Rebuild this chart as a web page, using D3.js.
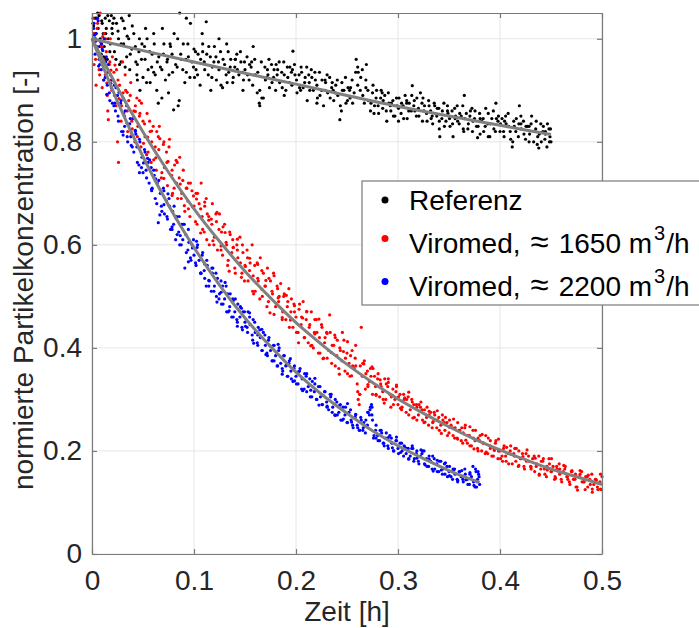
<!DOCTYPE html>
<html>
<head>
<meta charset="utf-8">
<script src="https://cdn.jsdelivr.net/npm/d3@7"></script>
<style>
  body { margin: 0; background: #fff; }
  svg { display: block; font-family: "Liberation Sans", Arial, Helvetica, sans-serif; }
</style>
</head>
<body>
<div class="chart"></div>
<script>
// measured points, [Zeit in h, normierte Konzentration]
var referenz = [
  [0.001,1.03],[0.002,0.99],[0.003,1.04],[0.004,1.01],[0.005,0.98],[0.006,1.02],[0.007,1.045],[0.008,1.0],[0.009,0.97],[0.010,1.03],
  [0.011,1.01],[0.012,0.985],[0.013,1.04],[0.014,1.02],[0.015,0.96],[0.016,1.0],[0.017,1.035],[0.018,0.99],[0.019,1.045],[0.020,1.01],
  [0.022,0.975],[0.024,1.03],[0.026,1.0],[0.027,0.95],[0.029,1.04],[0.031,0.99],[0.032,1.02],[0.034,0.965],[0.036,1.0],[0.037,0.94],
  [0.039,0.98],[0.041,1.01],[0.043,0.955],[0.044,0.93],[0.046,0.975],[0.047,0.90],[0.049,0.99],[0.050,0.925],
  [0.052,0.96],[0.054,1.0],[0.055,0.94],[0.057,0.915],[0.059,0.97],[0.061,0.99],[0.062,0.93],[0.064,0.955],[0.065,0.875],[0.067,0.945],
  [0.069,1.02],[0.070,0.97],[0.072,0.92],[0.074,0.96],[0.075,0.895],[0.077,0.985],[0.079,0.935],[0.080,0.862],[0.082,0.95],[0.084,1.0],
  [0.086,1.05],[0.087,0.97],[0.089,0.94],[0.091,0.915],[0.092,0.96],[0.094,0.99],[0.096,0.925],[0.098,0.955],[0.100,0.98],
  [0.102,0.94],[0.104,0.97],[0.106,0.91],[0.108,1.01],[0.110,0.955],[0.112,1.033],[0.114,0.93],[0.116,0.965],[0.118,0.945],[0.120,0.985],
  [0.122,0.92],[0.124,0.955],[0.126,0.975],[0.128,0.905],[0.130,0.95],[0.132,0.99],[0.134,0.935],[0.136,0.96],[0.138,0.915],[0.140,0.945],
  [0.142,0.97],[0.144,0.93],[0.146,0.955],[0.148,0.9],[0.150,0.94],
  [0.152,0.965],[0.154,0.92],[0.156,0.945],[0.158,0.985],[0.160,0.93],[0.162,0.895],[0.164,0.875],[0.166,0.955],[0.168,0.885],[0.170,0.92],
  [0.172,0.94],[0.174,0.905],[0.176,0.95],[0.178,0.925],[0.180,0.9],[0.182,0.94],[0.184,0.915],[0.186,0.935],[0.188,0.955],[0.190,0.9],
  [0.192,0.925],[0.194,0.945],[0.196,0.91],[0.197,0.976],[0.199,0.93],
  [0.201,0.895],[0.203,0.93],[0.205,0.945],[0.207,0.905],[0.209,0.925],[0.211,0.88],[0.213,0.915],[0.215,0.94],[0.217,0.9],[0.219,0.92],
  [0.221,0.885],[0.223,0.935],[0.225,0.9],[0.227,0.87],[0.229,0.915],[0.231,0.895],[0.233,0.925],[0.235,0.905],[0.237,0.88],[0.239,0.91],
  [0.241,0.89],[0.243,0.843],[0.245,0.915],[0.247,0.9],[0.249,0.875],
  [0.251,0.905],[0.253,0.885],[0.255,0.92],[0.257,0.895],[0.259,0.96],[0.261,0.935],[0.263,0.9],[0.265,0.94],[0.267,0.875],[0.269,0.95],
  [0.271,0.88],[0.273,0.86],[0.275,0.895],[0.277,0.87],[0.279,0.9],[0.281,0.855],[0.283,0.885],[0.285,0.865],[0.287,0.89],[0.289,0.84],
  [0.291,0.875],[0.293,0.86],[0.295,0.88],[0.297,0.85],[0.299,0.87],
  [0.301,0.885],[0.303,0.855],[0.305,0.87],[0.307,0.89],[0.309,0.845],[0.311,0.875],[0.313,0.86],[0.314,0.909],[0.316,0.88],[0.318,0.85],
  [0.320,0.865],[0.322,0.895],[0.324,0.84],[0.326,0.87],[0.328,0.855],[0.330,0.88],[0.332,0.86],[0.334,0.835],[0.336,0.87],[0.338,0.85],
  [0.340,0.865],[0.341,0.81],[0.343,0.845],[0.345,0.875],[0.347,0.84],
  [0.349,0.855],[0.351,0.83],[0.353,0.86],[0.354,0.81],[0.356,0.845],[0.358,0.87],[0.360,0.835],[0.362,0.85],[0.364,0.825],[0.365,0.89],
  [0.367,0.855],[0.369,0.835],[0.371,0.86],[0.373,0.82],[0.375,0.845],[0.377,0.83],[0.378,0.808],[0.380,0.855],[0.382,0.84],[0.384,0.82],
  [0.386,0.865],[0.388,0.835],[0.390,0.81],[0.392,0.845],[0.394,0.825],[0.396,0.875],[0.398,0.84],
  [0.400,0.82],[0.402,0.845],[0.404,0.81],[0.406,0.835],[0.408,0.855],[0.410,0.82],[0.412,0.79],[0.414,0.83],[0.416,0.845],[0.418,0.81],
  [0.419,0.87],[0.421,0.825],[0.423,0.84],[0.425,0.805],[0.427,0.83],[0.429,0.815],[0.431,0.85],[0.433,0.8],[0.435,0.825],[0.437,0.81],
  [0.438,0.788],[0.440,0.835],[0.442,0.82],[0.444,0.805],[0.446,0.79],[0.448,0.825],[0.449,0.81],[0.450,0.8],
  [0.0015,1.025],[0.0035,1.0],[0.0055,1.05],[0.0075,0.985],[0.0095,1.035],[0.0115,0.965],[0.0135,1.01],[0.0155,1.045],[0.0175,0.975],[0.0195,1.02],
  [0.0215,1.04],[0.0235,0.96],[0.0255,1.015],[0.0285,0.99],[0.0305,1.035],[0.0325,0.945],[0.0345,1.005],[0.0375,0.97],[0.0395,1.025],[0.0425,0.985],
  [0.0445,0.95],[0.0465,1.0],[0.0485,0.96],[0.0515,0.985],[0.0535,0.915],[0.0565,0.975],[0.0585,0.945],[0.0605,1.01],[0.0635,0.9],[0.0655,0.965],
  [0.0685,0.94],[0.0705,0.99],[0.0735,0.955],[0.0755,0.93],[0.0785,0.97],[0.0805,1.01],[0.0835,0.945],[0.0855,0.88],[0.0875,0.96],[0.0895,0.99],
  [0.0925,0.935],[0.0945,0.965],[0.0965,1.03],[0.0995,0.945],[0.1015,0.975],[0.1035,0.93],[0.1065,0.96],[0.1085,0.99],[0.1105,0.94],[0.1125,0.97],
  [0.1145,0.985],[0.1175,0.925],[0.1195,0.955],[0.1215,0.965],[0.1245,0.94],[0.1265,0.91],[0.1285,0.96],[0.1315,0.93],[0.1335,0.975],[0.1355,0.945],
  [0.1385,0.925],[0.1405,0.96],[0.1425,0.94],[0.1455,0.975],[0.1475,0.935],[0.1495,0.955],[0.1525,0.93],[0.1545,0.95],[0.1575,0.91],[0.1595,0.96],
  [0.1625,0.935],[0.1645,0.9],[0.1665,0.885],[0.1695,0.945],[0.1715,0.925],[0.1735,0.96],[0.1765,0.915],[0.1785,0.94],[0.1815,0.93],[0.1835,0.955],
  [0.1865,0.905],[0.1885,0.93],[0.1915,0.945],[0.1935,0.915],[0.1955,0.935],[0.1985,0.95],[0.2005,0.92],[0.2035,0.905],[0.2055,0.935],[0.2085,0.915],
  [0.2105,0.945],[0.2135,0.9],[0.2155,0.925],[0.2185,0.935],[0.2205,0.91],[0.2235,0.89],[0.2255,0.92],[0.2285,0.9],[0.2305,0.93],[0.2335,0.885],
  [0.2355,0.915],[0.2385,0.895],[0.2405,0.92],[0.2435,0.87],[0.2455,0.9],[0.2485,0.925],[0.2505,0.88],[0.2535,0.905],[0.2555,0.875],[0.2585,0.935],
  [0.2605,0.91],[0.2635,0.925],[0.2655,0.89],[0.2685,0.92],[0.2705,0.9],[0.2735,0.875],[0.2755,0.91],[0.2785,0.885],[0.2805,0.87],[0.2835,0.9],
  [0.2855,0.88],[0.2885,0.86],[0.2905,0.895],[0.2935,0.875],[0.2955,0.85],[0.2985,0.885],[0.3005,0.865],[0.3035,0.875],[0.3055,0.845],[0.3085,0.88],
  [0.3105,0.86],[0.3135,0.89],[0.3155,0.87],[0.3185,0.885],[0.3205,0.85],[0.3235,0.875],[0.3255,0.86],[0.3285,0.84],[0.3305,0.87],[0.3335,0.85],
  [0.3355,0.875],[0.3385,0.865],[0.3405,0.84],[0.3435,0.86],[0.3455,0.83],[0.3485,0.87],[0.3505,0.845],[0.3535,0.835],[0.3555,0.865],[0.3585,0.84],
  [0.3605,0.855],[0.3635,0.87],[0.3655,0.845],[0.3685,0.825],[0.3705,0.85],[0.3735,0.84],[0.3755,0.86],[0.3785,0.83],[0.3805,0.815],[0.3835,0.845],
  [0.3855,0.83],[0.3885,0.855],[0.3905,0.835],[0.3935,0.86],[0.3955,0.82],[0.3985,0.85],[0.4005,0.835],[0.4035,0.82],[0.4055,0.85],[0.4085,0.83],
  [0.4105,0.805],[0.4135,0.84],[0.4155,0.82],[0.4185,0.835],[0.4205,0.85],[0.4235,0.815],[0.4255,0.83],[0.4285,0.8],[0.4305,0.835],[0.4335,0.82],
  [0.4355,0.84],[0.4385,0.815],[0.4405,0.8],[0.4425,0.83],[0.4445,0.815],[0.4465,0.835],[0.4485,0.8],[0.4495,0.825],
  [0.0045,1.04],[0.0125,0.96],[0.0205,1.03],[0.0285,0.955],[0.0365,1.045],[0.0445,0.92],[0.0525,1.02],[0.0605,0.935],[0.0685,0.885],[0.0765,0.99],
  [0.0845,0.87],[0.0925,1.04],[0.1005,0.925],[0.1085,0.975],[0.1165,0.9],[0.1245,1.0],[0.1325,0.915],[0.1405,0.96],[0.1485,0.92],[0.1565,0.955],
  [0.1645,0.87],[0.1725,0.93],[0.1805,0.95],[0.1885,0.89],[0.1965,0.94],[0.2045,0.9],[0.2125,0.93],[0.2205,0.875],[0.2285,0.92],[0.2365,0.9],
  [0.2445,0.86],[0.2525,0.9],[0.2605,0.945],[0.2685,0.905],[0.2765,0.855],[0.2845,0.895],[0.2925,0.87],[0.3005,0.84],[0.3085,0.875],[0.3165,0.86],
  [0.3245,0.885],[0.3325,0.845],[0.3405,0.825],[0.3485,0.86],[0.3565,0.85],[0.3645,0.82],[0.3725,0.865],[0.3805,0.845],[0.3885,0.81],[0.3965,0.845],
  [0.4045,0.84],[0.4125,0.8],[0.4205,0.835],[0.4285,0.83],[0.4365,0.795],[0.4445,0.82]
];

var viromed1650 = [
  [0.001,1.04],[0.002,0.95],[0.003,1.0],[0.004,0.91],[0.005,1.02],[0.006,0.97],[0.007,0.94],[0.008,1.05],[0.009,0.99],[0.010,0.905],
  [0.011,0.96],[0.012,1.01],[0.013,0.93],[0.014,0.975],[0.015,0.89],[0.016,0.843],[0.017,0.95],[0.018,1.0],[0.019,0.92],[0.020,0.965],
  [0.022,0.89],[0.024,0.94],[0.025,0.8],[0.026,0.76],[0.027,0.91],[0.029,0.87],[0.030,0.955],[0.032,0.85],[0.033,0.9],[0.035,0.82],
  [0.036,0.88],[0.038,0.915],[0.039,0.84],[0.041,0.86],[0.042,0.8],[0.044,0.885],[0.045,0.83],[0.047,0.855],[0.048,0.79],[0.050,0.84],
  [0.052,0.81],[0.054,0.855],[0.055,0.78],[0.057,0.82],[0.058,0.76],[0.060,0.83],[0.062,0.79],[0.063,0.745],[0.065,0.81],[0.066,0.83],
  [0.068,0.73],[0.070,0.795],[0.071,0.75],[0.073,0.78],[0.074,0.715],[0.076,0.805],[0.078,0.735],[0.079,0.7],[0.081,0.755],[0.083,0.72],
  [0.084,0.69],[0.086,0.77],[0.088,0.7],[0.089,0.725],[0.091,0.665],[0.093,0.71],[0.094,0.685],[0.096,0.655],[0.098,0.705],[0.100,0.675],
  [0.102,0.7],[0.103,0.64],[0.105,0.68],[0.107,0.72],[0.108,0.655],[0.110,0.625],[0.112,0.69],[0.113,0.66],[0.115,0.6],[0.117,0.65],
  [0.118,0.68],[0.120,0.615],[0.122,0.645],[0.123,0.59],[0.125,0.66],[0.127,0.625],[0.128,0.58],[0.130,0.64],[0.132,0.6],[0.133,0.56],
  [0.135,0.625],[0.137,0.585],[0.138,0.61],[0.140,0.555],[0.142,0.6],[0.143,0.575],[0.145,0.615],[0.147,0.545],[0.148,0.585],[0.150,0.56],
  [0.152,0.59],[0.153,0.53],[0.155,0.565],[0.157,0.6],[0.158,0.54],[0.160,0.51],[0.162,0.565],[0.163,0.53],[0.165,0.575],[0.167,0.5],
  [0.168,0.545],[0.170,0.52],[0.172,0.555],[0.173,0.49],[0.175,0.53],[0.177,0.505],[0.178,0.545],[0.180,0.48],[0.182,0.515],[0.183,0.49],
  [0.185,0.525],[0.187,0.47],[0.188,0.5],[0.190,0.455],[0.192,0.49],[0.193,0.515],[0.195,0.47],[0.197,0.44],[0.198,0.485],[0.200,0.46],
  [0.202,0.43],[0.203,0.475],[0.205,0.445],[0.207,0.49],[0.208,0.42],[0.210,0.455],[0.212,0.41],[0.213,0.44],[0.215,0.47],[0.217,0.4],
  [0.218,0.43],[0.220,0.455],[0.222,0.39],[0.223,0.42],[0.225,0.445],[0.227,0.38],[0.228,0.41],[0.230,0.43],[0.232,0.395],[0.233,0.464],
  [0.235,0.37],[0.237,0.405],[0.238,0.425],[0.240,0.385],[0.242,0.36],[0.243,0.4],[0.245,0.375],[0.247,0.415],[0.248,0.355],[0.250,0.39],
  [0.252,0.37],[0.253,0.345],[0.255,0.395],[0.257,0.36],[0.258,0.38],[0.260,0.33],[0.261,0.3],[0.262,0.29],[0.263,0.365],[0.264,0.44],
  [0.265,0.345],[0.267,0.375],[0.268,0.32],[0.270,0.355],[0.272,0.335],[0.273,0.36],[0.275,0.31],[0.277,0.345],[0.278,0.325],[0.280,0.34],
  [0.282,0.305],[0.283,0.33],[0.285,0.315],[0.287,0.34],[0.288,0.3],[0.290,0.325],[0.292,0.31],[0.293,0.285],[0.295,0.32],[0.297,0.3],
  [0.298,0.315],[0.300,0.29],
  [0.302,0.31],[0.304,0.285],[0.306,0.3],[0.308,0.275],[0.310,0.305],[0.312,0.28],[0.314,0.295],[0.316,0.265],[0.318,0.29],[0.320,0.27],
  [0.322,0.285],[0.324,0.26],[0.326,0.28],[0.328,0.265],[0.330,0.25],[0.332,0.275],[0.334,0.255],[0.336,0.27],[0.338,0.245],[0.340,0.265],
  [0.342,0.25],[0.344,0.26],[0.346,0.24],[0.348,0.255],[0.350,0.235],
  [0.352,0.25],[0.354,0.23],[0.356,0.245],[0.358,0.225],[0.360,0.24],[0.362,0.22],[0.364,0.235],[0.366,0.25],[0.368,0.215],[0.370,0.23],
  [0.372,0.21],[0.374,0.225],[0.376,0.24],[0.378,0.205],[0.380,0.22],[0.382,0.2],[0.384,0.215],[0.386,0.23],[0.388,0.195],[0.390,0.21],
  [0.392,0.19],[0.394,0.205],[0.396,0.22],[0.398,0.185],[0.400,0.2],
  [0.402,0.19],[0.404,0.21],[0.406,0.18],[0.408,0.195],[0.410,0.2],[0.412,0.175],[0.414,0.19],[0.416,0.205],[0.418,0.17],[0.420,0.185],
  [0.422,0.195],[0.424,0.165],[0.426,0.18],[0.428,0.19],[0.430,0.17],[0.432,0.185],[0.434,0.16],[0.436,0.175],[0.438,0.19],[0.440,0.165],
  [0.442,0.18],[0.444,0.155],[0.446,0.17],[0.448,0.185],[0.450,0.16],[0.452,0.17],[0.454,0.15],[0.456,0.165],[0.458,0.175],[0.460,0.145],
  [0.462,0.16],[0.464,0.17],[0.466,0.15],[0.468,0.14],[0.470,0.16],[0.472,0.145],[0.474,0.155],[0.476,0.124],[0.478,0.15],[0.480,0.16],
  [0.482,0.14],[0.484,0.15],[0.486,0.13],[0.488,0.145],[0.490,0.155],[0.492,0.135],[0.494,0.145],[0.496,0.125],[0.498,0.14],[0.500,0.15],
  [0.0015,1.01],[0.0035,0.96],[0.0055,1.03],[0.0075,0.93],[0.0095,0.985],[0.0115,0.92],[0.0135,1.0],[0.0155,0.86],[0.0175,0.955],[0.0195,0.9],
  [0.0215,0.935],[0.0235,0.87],[0.0255,0.92],[0.0285,0.84],[0.0305,0.895],[0.0325,0.93],[0.0345,0.86],[0.0375,0.89],[0.0395,0.825],[0.0425,0.87],
  [0.0445,0.81],[0.0465,0.85],[0.0485,0.875],[0.0515,0.835],[0.0535,0.775],[0.0565,0.84],[0.0585,0.8],[0.0605,0.765],[0.0635,0.82],[0.0655,0.785],
  [0.0685,0.74],[0.0705,0.8],[0.0735,0.76],[0.0755,0.79],[0.0785,0.745],[0.0805,0.71],[0.0835,0.76],[0.0855,0.73],[0.0875,0.69],[0.0895,0.745],
  [0.0925,0.71],[0.0945,0.67],[0.0965,0.72],[0.0995,0.695],[0.1015,0.645],[0.1035,0.7],[0.1065,0.67],[0.1085,0.63],[0.1105,0.675],[0.1125,0.61],
  [0.1145,0.655],[0.1175,0.64],[0.1195,0.6],[0.1215,0.66],[0.1245,0.63],[0.1265,0.59],[0.1285,0.635],[0.1315,0.605],[0.1335,0.57],[0.1355,0.62],
  [0.1385,0.595],[0.1405,0.545],[0.1425,0.59],[0.1455,0.565],[0.1475,0.6],[0.1495,0.53],[0.1525,0.575],[0.1545,0.55],[0.1575,0.51],[0.1595,0.56],
  [0.1625,0.535],[0.1645,0.495],[0.1665,0.55],[0.1695,0.52],[0.1715,0.48],[0.1735,0.535],[0.1765,0.51],[0.1785,0.465],[0.1815,0.52],[0.1835,0.5],
  [0.1865,0.455],[0.1885,0.505],[0.1915,0.48],[0.1935,0.44],[0.1955,0.495],[0.1985,0.47],[0.2005,0.43],[0.2035,0.485],[0.2055,0.46],[0.2085,0.42],
  [0.2105,0.47],[0.2135,0.445],[0.2155,0.405],[0.2185,0.455],[0.2205,0.43],[0.2235,0.39],[0.2255,0.44],[0.2285,0.42],[0.2305,0.38],[0.2335,0.43],
  [0.2355,0.405],[0.2385,0.365],[0.2405,0.415],[0.2435,0.395],[0.2455,0.43],[0.2485,0.38],[0.2505,0.35],[0.2535,0.385],[0.2555,0.365],[0.2585,0.405],
  [0.2605,0.315],[0.2625,0.31],[0.2655,0.37],[0.2685,0.35],[0.2705,0.325],[0.2735,0.345],[0.2755,0.36],[0.2785,0.31],[0.2805,0.35],[0.2835,0.325],
  [0.2855,0.3],[0.2885,0.33],[0.2905,0.34],[0.2935,0.305],[0.2955,0.29],[0.2985,0.325],[0.3005,0.305],[0.3035,0.28],[0.3055,0.31],[0.3085,0.3],
  [0.3105,0.27],[0.3135,0.3],[0.3155,0.29],[0.3185,0.26],[0.3205,0.29],[0.3235,0.28],[0.3255,0.255],[0.3285,0.285],[0.3305,0.27],[0.3335,0.245],
  [0.3355,0.275],[0.3385,0.26],[0.3405,0.24],[0.3435,0.27],[0.3455,0.255],[0.3485,0.23],[0.3505,0.26],[0.3535,0.245],[0.3555,0.225],[0.3585,0.255],
  [0.3605,0.24],[0.3635,0.215],[0.3655,0.245],[0.3685,0.23],[0.3705,0.21],[0.3735,0.24],[0.3755,0.22],[0.3785,0.2],[0.3805,0.23],[0.3835,0.215],
  [0.3855,0.195],[0.3885,0.225],[0.3905,0.205],[0.3935,0.19],[0.3955,0.215],[0.3985,0.2],[0.4005,0.185],[0.4035,0.205],[0.4055,0.19],[0.4085,0.175],
  [0.4105,0.21],[0.4135,0.195],[0.4155,0.18],[0.4185,0.2],[0.4205,0.185],[0.4235,0.17],[0.4255,0.195],[0.4285,0.18],[0.4305,0.165],[0.4335,0.19],
  [0.4355,0.17],[0.4385,0.155],[0.4405,0.18],[0.4435,0.165],[0.4455,0.15],[0.4485,0.175],[0.4505,0.16],[0.4535,0.145],[0.4555,0.17],[0.4585,0.155],
  [0.4605,0.14],[0.4635,0.165],[0.4655,0.15],[0.4685,0.135],[0.4705,0.16],[0.4735,0.145],[0.4755,0.13],[0.4785,0.155],[0.4805,0.14],[0.4835,0.125],
  [0.4855,0.15],[0.4885,0.135],[0.4905,0.12],[0.4935,0.145],[0.4955,0.13],[0.4985,0.155],[0.4995,0.125],
  [0.0025,1.01],[0.0065,0.969],[0.0105,1.004],[0.0145,0.914],[0.0185,0.939],[0.0225,0.949],[0.0265,0.884],[0.0305,0.885],[0.0345,0.896],[0.0385,0.817],
  [0.0425,0.859],[0.0465,0.88],[0.0505,0.797],[0.0545,0.809],[0.0585,0.821],[0.0625,0.769],[0.0665,0.806],[0.0705,0.729],[0.0745,0.762],[0.0785,0.696],
  [0.0825,0.764],[0.0865,0.718],[0.0905,0.676],[0.0945,0.72],[0.0985,0.674],[0.1025,0.689],[0.1065,0.623],[0.1105,0.683],[0.1145,0.648],[0.1185,0.608],
  [0.1225,0.663],[0.1265,0.598],[0.1305,0.624],[0.1345,0.549],[0.1385,0.595],[0.1425,0.611],[0.1465,0.537],[0.1505,0.558],[0.1545,0.574],[0.1585,0.505],
  [0.1625,0.562],[0.1665,0.514],[0.1705,0.531],[0.1745,0.468],[0.1785,0.54],[0.1825,0.497],[0.1865,0.459],[0.1905,0.502],[0.1945,0.454],[0.1985,0.482],
  [0.2025,0.41],[0.2065,0.458],[0.2105,0.471],[0.2145,0.404],[0.2185,0.427],[0.2225,0.456],[0.2265,0.379],[0.2305,0.428],[0.2345,0.391],[0.2385,0.42],
  [0.2425,0.349],[0.2465,0.393],[0.2505,0.412],[0.2545,0.346],[0.2585,0.365],[0.2625,0.31],[0.2665,0.369],[0.2705,0.329],[0.2745,0.363],[0.2785,0.308],
  [0.2825,0.338],[0.2865,0.293],[0.2905,0.333],[0.2945,0.308],[0.2985,0.328],[0.3025,0.283],[0.3065,0.303],[0.3105,0.314],[0.3145,0.264],[0.3185,0.285],
  [0.3225,0.295],[0.3265,0.256],[0.3305,0.277],[0.3345,0.257],[0.3385,0.278],[0.3425,0.234],[0.3465,0.265],[0.3505,0.246],[0.3545,0.262],[0.3585,0.223],
  [0.3625,0.245],[0.3665,0.221],[0.3705,0.247],[0.3745,0.204],[0.3785,0.225],[0.3825,0.232],[0.3865,0.198],[0.3905,0.22],[0.3945,0.201],[0.3985,0.223],
  [0.4025,0.18],[0.4065,0.207],[0.4105,0.194],[0.4145,0.205],[0.4185,0.172],[0.4225,0.189],[0.4265,0.202],[0.4305,0.169],[0.4345,0.186],[0.4385,0.153],
  [0.4425,0.185],[0.4465,0.163],[0.4505,0.185],[0.4545,0.147],[0.4585,0.165],[0.4625,0.172],[0.4665,0.145],[0.4705,0.162],[0.4745,0.13],[0.4785,0.162],
  [0.4825,0.14],[0.4865,0.153],[0.4905,0.126],[0.4945,0.143],[0.4985,0.126]
];

var viromed2200 = [
  [0.001,1.0],[0.002,1.03],[0.003,0.97],[0.004,1.01],[0.005,0.985],[0.006,1.035],[0.007,0.96],[0.008,0.995],[0.009,0.94],[0.010,0.98],
  [0.011,0.955],[0.012,1.0],[0.013,0.925],[0.014,0.965],[0.015,0.91],[0.016,0.95],[0.017,0.895],[0.018,0.93],[0.019,0.905],[0.020,0.875],
  [0.022,0.91],[0.023,0.86],[0.025,0.89],[0.026,0.84],[0.028,0.875],[0.029,0.82],[0.031,0.855],[0.032,0.83],[0.034,0.87],[0.035,0.8],
  [0.037,0.835],[0.038,0.81],[0.040,0.845],[0.041,0.78],[0.043,0.815],[0.044,0.79],[0.046,0.755],[0.047,0.8],[0.049,0.77],[0.050,0.74],
  [0.052,0.78],[0.053,0.745],[0.055,0.76],[0.056,0.72],[0.058,0.75],[0.059,0.71],[0.061,0.735],[0.062,0.69],[0.064,0.72],[0.065,0.643],
  [0.067,0.7],[0.068,0.675],[0.070,0.71],[0.071,0.66],[0.073,0.685],[0.074,0.65],[0.076,0.675],[0.077,0.63],[0.079,0.665],[0.080,0.64],
  [0.082,0.61],[0.083,0.655],[0.085,0.625],[0.086,0.6],[0.088,0.64],[0.089,0.61],[0.091,0.555],[0.092,0.62],[0.094,0.59],[0.095,0.605],
  [0.097,0.57],[0.098,0.6],[0.100,0.58],
  [0.102,0.56],[0.103,0.595],[0.105,0.57],[0.107,0.545],[0.108,0.58],[0.110,0.55],[0.112,0.52],[0.113,0.56],[0.115,0.53],[0.117,0.51],
  [0.118,0.545],[0.120,0.52],[0.122,0.5],[0.123,0.535],[0.125,0.505],[0.127,0.485],[0.128,0.52],[0.130,0.495],[0.132,0.47],[0.133,0.505],
  [0.135,0.48],[0.137,0.46],[0.138,0.495],[0.140,0.47],[0.142,0.455],[0.143,0.485],[0.145,0.46],[0.147,0.44],[0.148,0.47],[0.150,0.45],
  [0.152,0.44],[0.153,0.47],[0.155,0.445],[0.157,0.425],[0.158,0.455],[0.160,0.43],[0.162,0.41],[0.163,0.44],[0.165,0.42],[0.167,0.395],
  [0.168,0.43],[0.170,0.405],[0.172,0.385],[0.173,0.415],[0.175,0.395],[0.177,0.375],[0.178,0.405],[0.180,0.385],[0.182,0.365],[0.183,0.395],
  [0.185,0.37],[0.187,0.355],[0.188,0.385],[0.190,0.365],[0.192,0.345],[0.193,0.37],[0.195,0.355],[0.197,0.335],[0.198,0.36],[0.200,0.345],
  [0.202,0.33],[0.204,0.36],[0.206,0.34],[0.208,0.32],[0.210,0.345],[0.212,0.325],[0.214,0.305],[0.216,0.335],[0.218,0.315],[0.220,0.3],
  [0.222,0.325],[0.224,0.305],[0.226,0.29],[0.228,0.315],[0.230,0.295],[0.232,0.28],[0.234,0.305],[0.236,0.285],[0.238,0.27],[0.240,0.295],
  [0.242,0.275],[0.244,0.26],[0.246,0.285],[0.248,0.27],[0.250,0.255],
  [0.252,0.275],[0.254,0.26],[0.256,0.245],[0.258,0.265],[0.260,0.25],[0.262,0.24],[0.264,0.26],[0.266,0.245],[0.268,0.235],[0.270,0.25],
  [0.272,0.27],[0.273,0.285],[0.274,0.29],[0.275,0.26],[0.276,0.225],[0.278,0.24],[0.280,0.23],[0.282,0.22],[0.284,0.235],[0.286,0.215],
  [0.288,0.225],[0.290,0.21],[0.292,0.23],[0.294,0.215],[0.296,0.2],[0.298,0.22],[0.300,0.205],
  [0.302,0.215],[0.304,0.2],[0.306,0.21],[0.308,0.195],[0.310,0.205],[0.312,0.19],[0.314,0.21],[0.316,0.185],[0.318,0.195],[0.320,0.18],
  [0.322,0.19],[0.324,0.2],[0.326,0.175],[0.328,0.185],[0.330,0.17],[0.332,0.18],[0.334,0.19],[0.336,0.165],[0.338,0.175],[0.340,0.16],
  [0.342,0.18],[0.344,0.165],[0.346,0.155],[0.348,0.17],[0.350,0.16],[0.352,0.15],[0.354,0.165],[0.356,0.155],[0.358,0.145],[0.360,0.16],
  [0.362,0.15],[0.364,0.14],[0.366,0.155],[0.368,0.145],[0.370,0.135],[0.372,0.15],[0.374,0.14],[0.376,0.165],[0.377,0.13],[0.378,0.145],
  [0.379,0.155],[0.380,0.135],
  [0.0015,1.02],[0.0035,0.995],[0.0055,1.04],[0.0075,0.95],[0.0095,0.99],[0.0115,0.92],[0.0135,0.955],[0.0155,0.935],[0.0175,0.88],[0.0195,0.92],
  [0.0215,0.87],[0.0235,0.905],[0.0255,0.85],[0.0285,0.88],[0.0305,0.82],[0.0325,0.86],[0.0345,0.81],[0.0375,0.845],[0.0395,0.79],[0.0425,0.82],
  [0.0445,0.76],[0.0465,0.805],[0.0485,0.75],[0.0515,0.785],[0.0535,0.73],[0.0565,0.765],[0.0585,0.705],[0.0605,0.745],[0.0635,0.68],[0.0655,0.725],
  [0.0685,0.665],[0.0705,0.705],[0.0735,0.655],[0.0755,0.69],[0.0785,0.635],[0.0805,0.675],[0.0835,0.62],[0.0855,0.655],[0.0875,0.6],[0.0895,0.64],
  [0.0925,0.585],[0.0945,0.63],[0.0965,0.575],[0.0995,0.61],[0.1015,0.565],[0.1035,0.6],[0.1065,0.545],[0.1085,0.585],[0.1105,0.535],[0.1125,0.57],
  [0.1145,0.52],[0.1175,0.555],[0.1195,0.51],[0.1215,0.545],[0.1245,0.495],[0.1265,0.53],[0.1285,0.485],[0.1315,0.52],[0.1335,0.47],[0.1355,0.505],
  [0.1385,0.46],[0.1405,0.495],[0.1425,0.45],[0.1455,0.48],[0.1475,0.435],[0.1495,0.47],[0.1525,0.43],[0.1545,0.46],[0.1575,0.415],[0.1595,0.45],
  [0.1625,0.405],[0.1645,0.435],[0.1665,0.395],[0.1695,0.425],[0.1715,0.39],[0.1735,0.42],[0.1765,0.375],[0.1785,0.405],[0.1815,0.365],[0.1835,0.4],
  [0.1865,0.36],[0.1885,0.385],[0.1915,0.345],[0.1935,0.375],[0.1955,0.34],[0.1985,0.365],[0.2005,0.33],[0.2035,0.355],[0.2055,0.32],[0.2085,0.35],
  [0.2105,0.315],[0.2135,0.34],[0.2155,0.305],[0.2185,0.33],[0.2205,0.3],[0.2235,0.325],[0.2255,0.29],[0.2285,0.315],[0.2305,0.285],[0.2335,0.31],
  [0.2355,0.275],[0.2385,0.3],[0.2405,0.27],[0.2435,0.29],[0.2455,0.26],[0.2485,0.285],[0.2505,0.255],[0.2535,0.28],[0.2555,0.25],[0.2585,0.27],
  [0.2605,0.245],[0.2635,0.265],[0.2655,0.24],[0.2685,0.26],[0.2705,0.275],[0.2725,0.28],[0.2745,0.27],[0.2765,0.23],[0.2785,0.25],[0.2805,0.22],
  [0.2835,0.24],[0.2855,0.215],[0.2885,0.235],[0.2905,0.205],[0.2935,0.225],[0.2955,0.2],[0.2985,0.22],[0.3005,0.195],[0.3035,0.215],[0.3055,0.19],
  [0.3085,0.205],[0.3105,0.185],[0.3135,0.205],[0.3155,0.18],[0.3185,0.2],[0.3205,0.175],[0.3235,0.195],[0.3255,0.2],[0.3285,0.17],[0.3305,0.19],
  [0.3335,0.165],[0.3355,0.185],[0.3385,0.16],[0.3405,0.18],[0.3435,0.155],[0.3455,0.175],[0.3485,0.15],[0.3505,0.17],[0.3535,0.145],[0.3555,0.165],
  [0.3585,0.14],[0.3605,0.16],[0.3635,0.145],[0.3655,0.165],[0.3685,0.135],[0.3705,0.155],[0.3735,0.17],[0.3755,0.13],[0.3765,0.16],[0.3775,0.14],
  [0.3795,0.15],
  [0.0025,1.007],[0.0065,0.947],[0.0105,0.977],[0.0145,0.892],[0.0185,0.913],[0.0225,0.875],[0.0265,0.896],[0.0305,0.813],[0.0345,0.836],[0.0385,0.793],
  [0.0425,0.822],[0.0465,0.74],[0.0505,0.759],[0.0545,0.768],[0.0585,0.708],[0.0625,0.728],[0.0665,0.658],[0.0705,0.678],[0.0745,0.699],[0.0785,0.63],
  [0.0825,0.651],[0.0865,0.618],[0.0905,0.64],[0.0945,0.567],[0.0985,0.594],[0.1025,0.607],[0.1065,0.545],[0.1105,0.563],[0.1145,0.531],[0.1185,0.555],
  [0.1225,0.489],[0.1265,0.508],[0.1305,0.527],[0.1345,0.472],[0.1385,0.492],[0.1425,0.442],[0.1465,0.477],[0.1505,0.442],[0.1545,0.468],[0.1585,0.409],
  [0.1625,0.425],[0.1665,0.436],[0.1705,0.387],[0.1745,0.404],[0.1785,0.375],[0.1825,0.407],[0.1865,0.349],[0.1905,0.366],[0.1945,0.379],[0.1985,0.336],
  [0.2025,0.354],[0.2065,0.317],[0.2105,0.35],[0.2145,0.318],[0.2185,0.341],[0.2225,0.289],[0.2265,0.308],[0.2305,0.287],[0.2345,0.31],[0.2385,0.269],
  [0.2425,0.288],[0.2465,0.262],[0.2505,0.292],[0.2545,0.256],[0.2585,0.271],[0.2625,0.24],[0.2665,0.255],[0.2705,0.275],[0.2745,0.285],[0.2785,0.225],
  [0.2825,0.24],[0.2865,0.21],[0.2905,0.226],[0.2945,0.206],[0.2985,0.227],[0.3025,0.197],[0.3065,0.208],[0.3105,0.184],[0.3145,0.205],[0.3185,0.186],
  [0.3225,0.202],[0.3265,0.173],[0.3305,0.184],[0.3345,0.161],[0.3385,0.182],[0.3425,0.163],[0.3465,0.177],[0.3505,0.152],[0.3545,0.163],[0.3585,0.143],
  [0.3625,0.162],[0.3665,0.144],[0.3705,0.158],[0.3745,0.133],[0.3785,0.16]
];

// grey fit curves
var fitReferenz = [[0,1.0],[0.05,0.977],[0.1,0.955],[0.15,0.933],[0.2,0.912],[0.25,0.89],[0.3,0.869],[0.35,0.85],[0.4,0.832],[0.45,0.814]];
var fit1650 = [[0,1],[0.025,0.905],[0.05,0.819],[0.075,0.741],[0.1,0.670],[0.125,0.607],[0.15,0.549],[0.175,0.497],[0.2,0.449],
  [0.225,0.407],[0.25,0.368],[0.275,0.333],[0.3,0.301],[0.325,0.273],[0.35,0.247],[0.375,0.223],[0.4,0.202],[0.425,0.183],
  [0.45,0.165],[0.475,0.150],[0.5,0.135]];
var fit2200 = [[0,1],[0.025,0.878],[0.05,0.771],[0.075,0.677],[0.1,0.595],[0.125,0.522],[0.15,0.458],[0.175,0.403],[0.2,0.353],
  [0.225,0.310],[0.25,0.273],[0.275,0.239],[0.3,0.210],[0.325,0.185],[0.35,0.162],[0.38,0.139]];

var xTicks = [0, 0.1, 0.2, 0.3, 0.4, 0.5];
var yTicks = [0, 0.2, 0.4, 0.6, 0.8, 1];
var seriesNames = ['Referenz', 'Viromed,', 'Viromed,'];
var seriesFlow = [null, '1650', '2200'];
var seriesColors = ['#000000', '#ff0000', '#0000ff'];

var W = 699, H = 628;
var margin = { top: 13, right: 97, bottom: 74, left: 92 };
var width = W - margin.left - margin.right;
var height = H - margin.top - margin.bottom;
var fontSize = '28px';

var svg = d3.select('.chart')
  .append('svg')
    .attr('width', W)
    .attr('height', H);

var x = d3.scaleLinear().domain([0, 0.5]).range([margin.left, margin.left + width]);
var y = d3.scaleLinear().domain([0, 1.05]).range([margin.top + height, margin.top]);

// grid
svg.append('g')
  .selectAll('line')
  .data(xTicks)
  .join('line')
    .attr('x1', d => x(d)).attr('x2', d => x(d))
    .attr('y1', y(0)).attr('y2', y(1.05))
    .attr('stroke', '#e6e6e6').attr('stroke-width', 1);
svg.append('g')
  .selectAll('line')
  .data(yTicks)
  .join('line')
    .attr('y1', d => y(d)).attr('y2', d => y(d))
    .attr('x1', x(0)).attr('x2', x(0.5))
    .attr('stroke', '#e6e6e6').attr('stroke-width', 1);

// points
var plot = svg.append('g');
[referenz, viromed1650, viromed2200].forEach(function (pts, i) {
  plot.append('g')
    .selectAll('circle')
    .data(pts)
    .join('circle')
      .attr('cx', d => x(d[0]))
      .attr('cy', d => y(d[1]))
      .attr('r', 1.6)
      .attr('fill', seriesColors[i]);
});

// fit lines
var line = d3.line().x(d => x(d[0])).y(d => y(d[1])).curve(d3.curveMonotoneX);
[fitReferenz, fit1650, fit2200].forEach(function (f) {
  svg.append('path')
    .datum(f)
    .attr('d', line)
    .attr('fill', 'none')
    .attr('stroke', '#808080')
    .attr('stroke-width', 3);
});

// axes (box with inward ticks)
var axisColor = '#7a7a7a';
var tickLen = 5;
var axBottom = svg.append('g')
  .attr('transform', `translate(0, ${y(0)})`)
  .call(d3.axisBottom(x).tickValues(xTicks).tickSizeInner(-tickLen).tickSizeOuter(0).tickPadding(16).tickFormat(d3.format('~g')));
var axLeft = svg.append('g')
  .attr('transform', `translate(${x(0)}, 0)`)
  .call(d3.axisLeft(y).tickValues(yTicks).tickSizeInner(-tickLen).tickSizeOuter(0).tickPadding(10).tickFormat(d3.format('~g')));
var axTop = svg.append('g')
  .attr('transform', `translate(0, ${y(1.05)})`)
  .call(d3.axisTop(x).tickValues(xTicks).tickSizeInner(-tickLen).tickSizeOuter(0).tickFormat(''));
var axRight = svg.append('g')
  .attr('transform', `translate(${x(0.5)}, 0)`)
  .call(d3.axisRight(y).tickValues(yTicks).tickSizeInner(-tickLen).tickSizeOuter(0).tickFormat(''));

[axBottom, axLeft, axTop, axRight].forEach(function (a) {
  a.select('.domain').attr('stroke', axisColor).attr('stroke-width', 1.2);
  a.selectAll('.tick line').attr('stroke', axisColor).attr('stroke-width', 1.2);
  a.selectAll('.tick text')
    .attr('fill', '#262626')
    .style('font-size', fontSize)
    .style('font-family', '"Liberation Sans", Arial, Helvetica, sans-serif');
});

// axis titles
svg.append('text')
  .attr('x', x(0.25))
  .attr('y', 621)
  .attr('text-anchor', 'middle')
  .attr('fill', '#262626')
  .style('font-size', fontSize)
  .text('Zeit [h]');

svg.append('text')
  .attr('transform', 'translate(33, 280) rotate(-90)')
  .attr('text-anchor', 'middle')
  .attr('fill', '#262626')
  .style('font-size', fontSize)
  .text('normierte Partikelkonzentration [-]');

// legend
var legend = svg.append('g');
legend.append('rect')
  .attr('x', 362).attr('y', 181)
  .attr('width', 400).attr('height', 124)
  .attr('fill', '#fff')
  .attr('stroke', '#7a7a7a')
  .attr('stroke-width', 1.2);

var dotY = [200, 238.5, 281.5];
var baseY = [210, 253, 296];
seriesNames.forEach(function (name, i) {
  legend.append('circle')
    .attr('cx', 385).attr('cy', dotY[i])
    .attr('r', 3.5)
    .attr('fill', seriesColors[i]);
  var t = legend.append('text')
    .attr('x', 409).attr('y', baseY[i])
    .attr('fill', '#000')
    .style('font-size', fontSize);
  t.append('tspan').text(name);
  if (seriesFlow[i]) {
    t.append('tspan').attr('dx', 10).style('font-size', '33px').text('\u2248');
    t.append('tspan').attr('dx', 10).text(seriesFlow[i] + ' m');
    t.append('tspan').attr('dx', 2).attr('dy', -13).style('font-size', '20px').text('3');
    t.append('tspan').attr('dx', 1).attr('dy', 13).text('/h');
  }
});
</script>
</body>
</html>
